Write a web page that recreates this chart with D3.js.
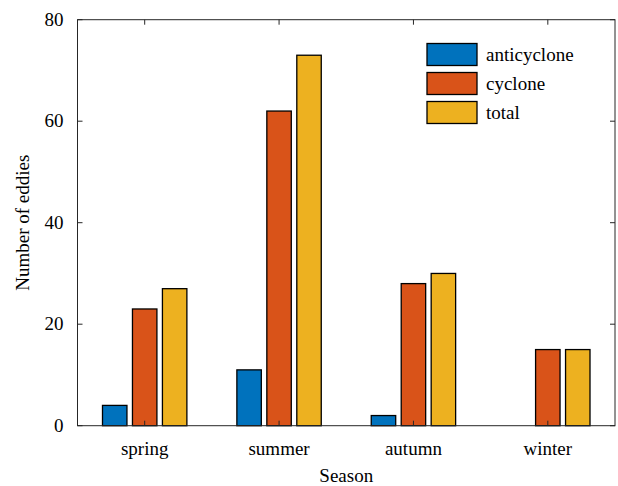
<!DOCTYPE html>
<html>
<head>
<meta charset="utf-8">
<script src="https://cdn.jsdelivr.net/npm/d3@7"></script>
<style>
  body { margin: 0; background: #fff; }
  svg { display: block; font-family: "Liberation Serif", "Times New Roman", serif; }
</style>
</head>
<body>
<div id="chart"></div>
<script>
// data
var seasons = ["spring", "summer", "autumn", "winter"];
var seriesNames = ["anticyclone", "cyclone", "total"];
var anticyclone = [4, 11, 2, 0];
var cyclone = [23, 62, 28, 15];
var total = [27, 73, 30, 15];
var yTicks = [0, 20, 40, 60, 80];
var colors = ["#0072BD", "#D95319", "#EDB120"];

var series = [anticyclone, cyclone, total];

var W = 618, H = 486;
var plotL = 77.5, plotR = 615, plotT = 19.7, plotB = 425.7;
var fs = 19;

var svg = d3.select("#chart").append("svg")
  .attr("width", W)
  .attr("height", H);

var x = d3.scaleLinear().domain([0.5, 4.5]).range([plotL, plotR]);
var y = d3.scaleLinear().domain([0, 80]).range([plotB, plotT]);

var groupOff = 0.223, barW = 0.182; // in category units
var axisColor = "#262626";

// bars
series.forEach(function(vals, s){
  svg.append("g").selectAll("rect")
    .data(vals)
    .enter().append("rect")
    .attr("x", function(d, i){ return x(i + 1 + (s - 1) * groupOff - barW / 2); })
    .attr("width", x(1 + barW) - x(1))
    .attr("y", function(d){ return y(d); })
    .attr("height", function(d){ return y(0) - y(d); })
    .attr("fill", colors[s])
    .attr("stroke", "#000")
    .attr("stroke-width", 1.3)
    .style("display", function(d){ return d === 0 ? "none" : null; });
});

// box
svg.append("rect")
  .attr("x", plotL).attr("y", plotT)
  .attr("width", plotR - plotL).attr("height", plotB - plotT)
  .attr("fill", "none")
  .attr("stroke", axisColor)
  .attr("stroke-width", 1);

// y ticks (left and right, inward)
var tickLen = 5;
yTicks.forEach(function(t){
  svg.append("line")
    .attr("x1", plotL).attr("x2", plotL + tickLen)
    .attr("y1", y(t)).attr("y2", y(t))
    .attr("stroke", axisColor);
  svg.append("line")
    .attr("x1", plotR).attr("x2", plotR - tickLen)
    .attr("y1", y(t)).attr("y2", y(t))
    .attr("stroke", axisColor);
  svg.append("text")
    .attr("x", plotL - 14)
    .attr("y", y(t))
    .attr("dy", "0.33em")
    .attr("text-anchor", "end")
    .attr("font-size", fs)
    .attr("fill", "#000")
    .text(t);
});

// x ticks (bottom and top, inward)
seasons.forEach(function(s, i){
  var cx = x(i + 1);
  svg.append("line")
    .attr("x1", cx).attr("x2", cx)
    .attr("y1", plotB).attr("y2", plotB - tickLen)
    .attr("stroke", axisColor);
  svg.append("line")
    .attr("x1", cx).attr("x2", cx)
    .attr("y1", plotT).attr("y2", plotT + tickLen)
    .attr("stroke", axisColor);
  svg.append("text")
    .attr("x", cx)
    .attr("y", 455)
    .attr("text-anchor", "middle")
    .attr("font-size", fs)
    .attr("fill", "#000")
    .text(s);
});

// axis labels
svg.append("text")
  .attr("x", (plotL + plotR) / 2)
  .attr("y", 482)
  .attr("text-anchor", "middle")
  .attr("font-size", fs)
  .text("Season");

svg.append("text")
  .attr("transform", "translate(29," + ((plotT + plotB) / 2) + ") rotate(-90)")
  .attr("text-anchor", "middle")
  .attr("font-size", fs)
  .text("Number of eddies");

// legend
var legend = svg.append("g").attr("transform", "translate(427,43.5)");
seriesNames.forEach(function(name, i){
  var g = legend.append("g").attr("transform", "translate(0," + i * 29 + ")");
  g.append("rect")
    .attr("width", 50).attr("height", 22)
    .attr("fill", colors[i])
    .attr("stroke", "#000")
    .attr("stroke-width", 1.3);
  g.append("text")
    .attr("x", 59).attr("y", 11)
    .attr("dy", "0.33em")
    .attr("font-size", fs)
    .text(name);
});
</script>
</body>
</html>
